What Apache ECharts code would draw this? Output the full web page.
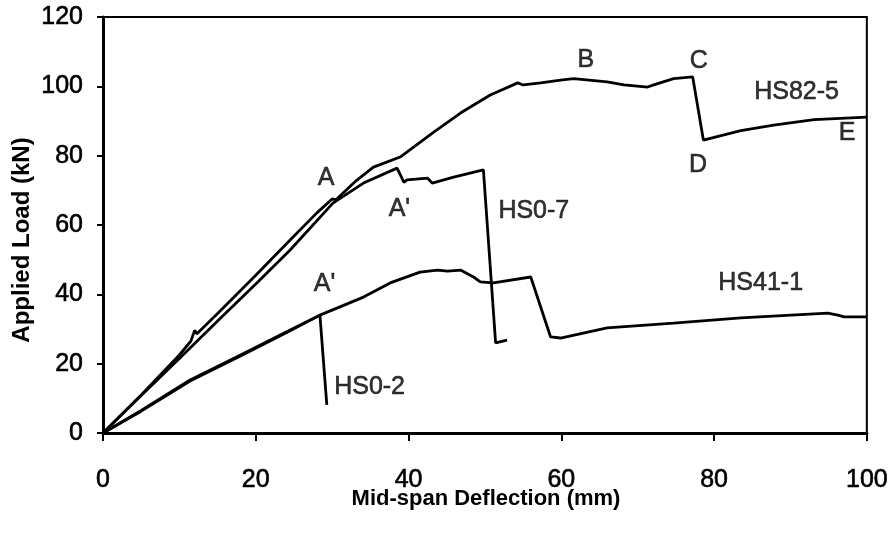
<!DOCTYPE html>
<html>
<head>
<meta charset="utf-8">
<script src="https://cdn.jsdelivr.net/npm/echarts@6/dist/echarts.min.js"></script>
<style>
  html, body { margin: 0; padding: 0; background: #fff; }
  #chart { width: 891px; height: 543px; }
</style>
</head>
<body>
<div id="chart"></div>
<script>
// Load–deflection curves: [mid-span deflection (mm), applied load (kN)]
const hs82_5 = [
  [0, 0], [5, 11], [10, 22.5], [11.5, 26.5], [12, 29.6], [12.3, 28.6], [15, 34.5],
  [20, 45.5], [24.5, 55.7], [28, 63.5], [30, 67.5], [30.5, 67.3], [33, 72.5],
  [35.4, 76.7], [38.9, 79.6], [43.3, 86.8], [46.8, 92.3], [50.7, 97.5],
  [54.3, 101], [55, 100.4], [57.3, 101], [59.9, 101.8], [61.6, 102.2],
  [66, 101.3], [68.2, 100.4], [71.3, 99.8], [72.1, 100.4], [74.7, 102.2],
  [77.2, 102.7], [78.6, 84.5], [83.5, 87.2], [87.8, 88.8], [93.1, 90.4], [100, 91.1]
];
const hs0_7 = [
  [0, 0], [5, 10.8], [10, 21.5], [15, 32.3], [20, 43], [24.5, 52.8], [30.1, 66.3],
  [34.1, 72.1], [38.5, 76.4], [39.4, 72.3], [39.8, 73], [42.5, 73.5], [43.1, 72.1],
  [45.9, 73.8], [49.8, 75.9], [51.4, 26], [52.9, 26.8]
];
const hs41_1 = [
  [0, 0], [5, 6.5], [11.4, 15.3], [18, 22.5], [24.5, 29.7], [28.4, 34], [34.1, 39.2],
  [37.6, 43.3], [41.5, 46.4], [43.8, 47], [45.1, 46.7], [46.8, 47], [48.5, 45],
  [49.4, 43.6], [51.1, 43.3], [56, 45], [58.6, 27.7], [59.9, 27.4], [66, 30.3],
  [74.7, 31.7], [83.5, 33.2], [94.9, 34.6], [96.2, 34], [97, 33.5], [100, 33.5]
];
const hs0_2 = [
  [0, 0], [5, 6.3], [11.4, 15], [18, 22.2], [24.5, 29.5], [28.4, 34], [29.3, 8.1]
];

// Curve names and point markers placed in data space
const annotations = [
  ['A', 29.2, 73.5], ["A'", 38.8, 64.6], ['HS0-7', 56.4, 64.0],
  ["A'", 29.0, 43.0], ['HS0-2', 34.9, 13.3], ['HS41-1', 86.1, 43.3],
  ['B', 63.2, 107.5], ['C', 78.0, 107.3], ['HS82-5', 90.8, 98.3],
  ['D', 77.9, 77.3], ['E', 97.4, 86.5]
];

const xTicks = [0, 20, 40, 60, 80, 100];
const yTicks = [0, 20, 40, 60, 80, 100, 120];

const chart = echarts.init(document.getElementById('chart'));
const FONT = '"Liberation Sans", Arial, sans-serif';

function curve(name, data) {
  return {
    name: name, type: 'line', data: data, symbol: 'none', animation: false,
    lineStyle: { color: '#000', width: 2.8 }, z: 3
  };
}

chart.setOption({
  backgroundColor: '#fff',
  animation: false,
  grid: {
    left: 103, right: 24, top: 17, bottom: 110,
    show: true, borderColor: '#000', borderWidth: 2
  },
  xAxis: {
    type: 'value', min: 0, max: 100, interval: 20,
    axisLine: { show: true, lineStyle: { color: '#000', width: 3 } },
    axisTick: { show: true, length: 8, lineStyle: { color: '#000', width: 2 } },
    splitLine: { show: false },
    axisLabel: {
      color: '#000', fontSize: 25, fontFamily: FONT, margin: 35,
      textBorderColor: '#000', textBorderWidth: 0.6,
      formatter: v => xTicks.includes(v) ? String(v) : ''
    }
  },
  yAxis: {
    type: 'value', min: 0, max: 120, interval: 20,
    axisLine: { show: true, lineStyle: { color: '#000', width: 3 } },
    axisTick: { show: true, length: 6, lineStyle: { color: '#000', width: 2 } },
    splitLine: { show: false },
    axisLabel: {
      color: '#000', fontSize: 25, fontFamily: FONT, margin: 20,
      textBorderColor: '#000', textBorderWidth: 0.6,
      formatter: v => yTicks.includes(v) ? String(v) : ''
    }
  },
  graphic: [
    {
      type: 'text', x: 486, y: 499,
      style: {
        text: 'Mid-span Deflection (mm)', fill: '#000',
        font: 'bold 22px "Liberation Sans", Arial, sans-serif',
        textAlign: 'center', textVerticalAlign: 'middle'
      }
    },
    {
      type: 'text', x: 22, y: 240, rotation: Math.PI / 2,
      style: {
        text: 'Applied Load (kN)', fill: '#000',
        font: 'bold 24px "Liberation Sans", Arial, sans-serif',
        textAlign: 'center', textVerticalAlign: 'middle'
      }
    }
  ],
  series: [
    curve('HS82-5', hs82_5),
    curve('HS0-7', hs0_7),
    curve('HS41-1', hs41_1),
    curve('HS0-2', hs0_2),
    {
      type: 'scatter', symbolSize: 0, animation: false, z: 4,
      data: annotations.map(a => ({ value: [a[1], a[2]], name: a[0] })),
      label: {
        show: true, position: 'inside', formatter: p => p.name,
        color: '#000', fontSize: 25, fontFamily: FONT,
        textBorderColor: '#000', textBorderWidth: 0.6
      }
    }
  ]
});
</script>
</body>
</html>
